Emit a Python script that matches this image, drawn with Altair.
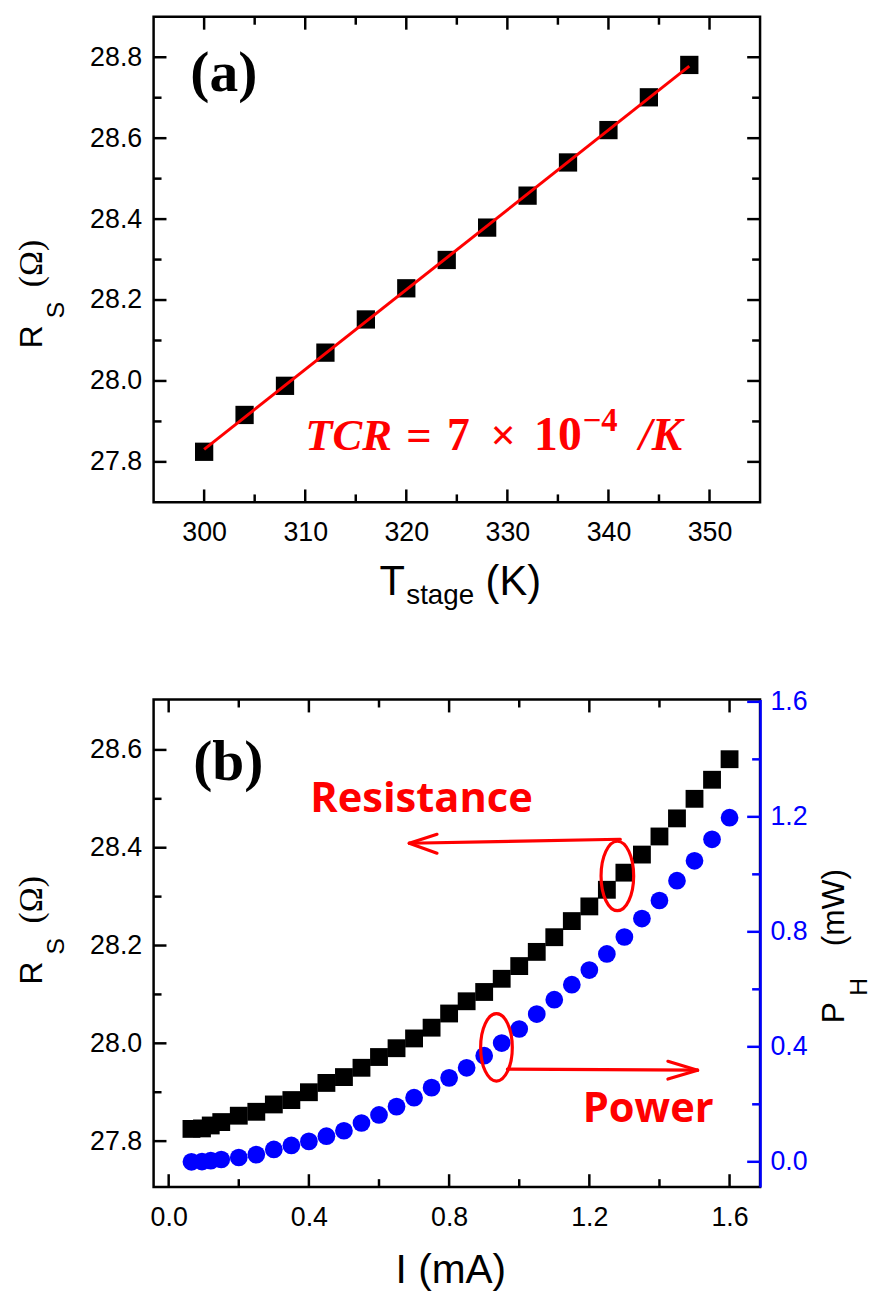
import altair as alt
import pandas as pd

# ---------------- data: panel (a) ----------------
T_stage = [300, 304, 308, 312, 316, 320, 324, 328, 332, 336, 340, 344, 348]
R_a = [27.825, 27.916, 27.988, 28.070, 28.152, 28.229, 28.299, 28.379,
       28.458, 28.540, 28.620, 28.701, 28.781]

# ---------------- data: panel (b) ----------------
I_mA = [0.065, 0.095, 0.12, 0.15, 0.20, 0.25, 0.30, 0.35, 0.40, 0.45, 0.50,
        0.55, 0.60, 0.65, 0.70, 0.75, 0.80, 0.85, 0.90, 0.95, 1.00, 1.05,
        1.10, 1.15, 1.20, 1.25, 1.30, 1.35, 1.40, 1.45, 1.50, 1.55, 1.60]
R_b = [27.825, 27.826, 27.832, 27.839, 27.852, 27.860, 27.875, 27.884,
       27.900, 27.919, 27.931, 27.950, 27.972, 27.990, 28.010, 28.032,
       28.061, 28.086, 28.105, 28.132, 28.158, 28.187, 28.217, 28.250,
       28.280, 28.314, 28.349, 28.386, 28.423, 28.460, 28.500, 28.539, 28.581]
P_b = [0.000, 0.001, 0.004, 0.008, 0.015, 0.025, 0.043, 0.057, 0.071,
       0.089, 0.108, 0.135, 0.163, 0.192, 0.223, 0.258, 0.292, 0.327,
       0.369, 0.413, 0.462, 0.514, 0.564, 0.616, 0.667, 0.723, 0.782,
       0.846, 0.909, 0.978, 1.047, 1.122, 1.197]

# ---------------- tick values ----------------
a_x_major = [300, 310, 320, 330, 340, 350]
a_x_minor = [305, 315, 325, 335, 345]
a_y_major = [27.8, 28.0, 28.2, 28.4, 28.6, 28.8]
a_y_minor = [27.9, 28.1, 28.3, 28.5, 28.7]
b_x_major = [0.0, 0.4, 0.8, 1.2, 1.6]
b_x_minor = [0.2, 0.6, 1.0, 1.4]
b_yl_major = [27.8, 28.0, 28.2, 28.4, 28.6]
b_yl_minor = [27.9, 28.1, 28.3, 28.5]
b_yr_major = [0.0, 0.4, 0.8, 1.2, 1.6]
b_yr_minor = [0.2, 0.6, 1.0, 1.4]

# ---------------- layout / style ----------------
W, HA, HB = 612, 490, 492
MAJ, MIN = 13, 8
TW = 2.5
RED, BLUE = "#ff0000", "#0000ff"
SANS, SERIF = "Liberation Sans", "Liberation Serif"
ONE = pd.DataFrame({"k": [0]})

xa = alt.Scale(domain=[295, 355], nice=False, zero=False)
ya = alt.Scale(domain=[27.7, 28.9], nice=False, zero=False)
xb = alt.Scale(domain=[-0.043, 1.687], nice=False, zero=False)
ybl = alt.Scale(domain=[27.706, 28.703], nice=False, zero=False)
ybr = alt.Scale(domain=[-0.088, 1.608], nice=False, zero=False)


def bottom_axis(vals, fmt):
    return alt.Axis(values=vals, format=fmt, title=None, domain=False, ticks=False,
                    tickSize=0, grid=False, labelPadding=18)


def left_axis(vals):
    return alt.Axis(orient="left", values=vals, format=".1f", title=None, domain=False,
                    ticks=False, tickSize=0, grid=False, labelPadding=12)


AX_A_X = bottom_axis(a_x_major, "d")
AX_A_Y = left_axis(a_y_major)
AX_B_X = bottom_axis(b_x_major, ".1f")
AX_B_YL = left_axis(b_yl_major)
AX_B_YR = alt.Axis(orient="right", values=b_yr_major, format=".1f", title=None,
                   domain=True, domainColor=BLUE, domainWidth=TW, ticks=False,
                   tickSize=0, grid=False, labelPadding=10, labelColor=BLUE)


def xticks(vals, scale, axis, length, h):
    d = pd.DataFrame({"v": vals})
    enc_x = alt.X("v:Q", scale=scale, axis=axis)
    bot = alt.Chart(d).mark_rule(color="black", strokeWidth=TW).encode(
        x=enc_x, y=alt.value(h), y2=alt.value(h - length))
    top = alt.Chart(d).mark_rule(color="black", strokeWidth=TW).encode(
        x=enc_x, y=alt.value(0), y2=alt.value(length))
    return [bot, top]


def yticks(vals, scale, axis, length, side, color="black"):
    d = pd.DataFrame({"v": vals})
    x0 = 0 if side == "left" else W
    x1 = length if side == "left" else W - length
    return alt.Chart(d).mark_rule(color=color, strokeWidth=TW).encode(
        y=alt.Y("v:Q", scale=scale, axis=axis), x=alt.value(x0), x2=alt.value(x1))


def label(s, x, y, size, font=SANS, weight="normal", style="normal",
          color="black", align="left", angle=0, baseline="alphabetic"):
    return alt.Chart(ONE).mark_text(
        text=s, font=font, fontSize=size, fontWeight=weight, fontStyle=style,
        color=color, align=align, baseline=baseline, angle=angle
    ).encode(x=alt.value(x), y=alt.value(y))


def seg(x1, y1, x2, y2, w=3.2):
    return alt.Chart(ONE).mark_rule(color=RED, strokeWidth=w, strokeCap="round").encode(
        x=alt.value(x1), y=alt.value(y1), x2=alt.value(x2), y2=alt.value(y2))


ELLIPSE = "M-0.47,0 A0.47,1 0 1,1 0.47,0 A0.47,1 0 1,1 -0.47,0 Z"


def ellipse(cx, cy, h):
    return alt.Chart(ONE).mark_point(
        shape=ELLIPSE, size=h * h, filled=False, color=RED, strokeWidth=3.2, opacity=1
    ).encode(x=alt.value(cx), y=alt.value(cy))


def y_title(ry):
    return [
        label("R", -113, ry, 32, align="center", angle=270),
        label("S", -90, ry - 27, 25, align="center", angle=270),
        label("(Ω)", -113, ry - 74, 34, font=SERIF, align="center", angle=270),
    ]


# ---------------- panel (a) ----------------
df_a = pd.DataFrame({"T": T_stage, "R": R_a})

pts_a = alt.Chart(df_a).mark_square(size=340, color="black", opacity=1).encode(
    x=alt.X("T:Q", scale=xa, axis=AX_A_X),
    y=alt.Y("R:Q", scale=ya, axis=AX_A_Y),
)
fit_a = alt.Chart(df_a).transform_regression("T", "R").mark_line(
    color=RED, strokeWidth=3).encode(
    x=alt.X("T:Q", scale=xa, axis=AX_A_X), y=alt.Y("R:Q", scale=ya, axis=AX_A_Y))

layers_a = [pts_a, fit_a]
layers_a += xticks(a_x_major, xa, AX_A_X, MAJ, HA) + xticks(a_x_minor, xa, AX_A_X, MIN, HA)
layers_a += [yticks(a_y_major, ya, AX_A_Y, MAJ, "left"), yticks(a_y_minor, ya, AX_A_Y, MIN, "left"),
             yticks(a_y_major, ya, AX_A_Y, MAJ, "right"), yticks(a_y_minor, ya, AX_A_Y, MIN, "right")]
layers_a += y_title(323)
layers_a += [
    label("T", 228, HA + 93, 42),
    label("stage", 255, HA + 103, 28),
    label("(K)", 335, HA + 93, 42),
    label("(a)", 37, 75, 58, font=SERIF, weight="bold"),
    label("TCR", 153, 437, 45, font=SERIF, weight="bold", style="italic", color=RED),
    label("=", 255, 437, 45, font=SERIF, weight="bold", color=RED),
    label("7", 296, 437, 46, font=SERIF, weight="bold", color=RED),
    label("×", 340, 437, 45, font=SERIF, weight="bold", color=RED),
    label("10", 384, 437, 48, font=SERIF, weight="bold", color=RED),
    label("−4", 433, 418, 33, font=SERIF, weight="bold", color=RED),
    label("/K", 490, 437, 46, font=SERIF, weight="bold", style="italic", color=RED),
]
panel_a = alt.layer(*layers_a).properties(width=W, height=HA)

# ---------------- panel (b) ----------------
df_b = pd.DataFrame({"I": I_mA, "R": R_b, "P": P_b})

sq_b = alt.Chart(df_b).mark_square(size=324, color="black", opacity=1).encode(
    x=alt.X("I:Q", scale=xb, axis=AX_B_X),
    y=alt.Y("R:Q", scale=ybl, axis=AX_B_YL),
)
ci_b = alt.Chart(df_b).mark_circle(size=320, color=BLUE, opacity=1).encode(
    x=alt.X("I:Q", scale=xb, axis=AX_B_X),
    y=alt.Y("P:Q", scale=ybr, axis=AX_B_YR),
)

layers_b = [sq_b, ci_b]
layers_b += xticks(b_x_major, xb, AX_B_X, MAJ, HB) + xticks(b_x_minor, xb, AX_B_X, MIN, HB)
layers_b += [yticks(b_yl_major, ybl, None, MAJ, "left"), yticks(b_yl_minor, ybl, None, MIN, "left"),
             yticks(b_yr_major, ybr, None, MAJ, "right", BLUE),
             yticks(b_yr_minor, ybr, None, MIN, "right", BLUE)]
layers_b += y_title(276)
layers_b += [
    label("I (mA)", 300, HB + 97, 41, align="center"),
    label("P", W + 85, 316, 32, align="center", angle=270),
    label("H", W + 108, 290, 25, align="center", angle=270),
    label("(mW)", W + 85, 210, 32, align="center", angle=270),
    label("(b)", 40, 81, 58, font=SERIF, weight="bold"),
    label("Resistance", 158, 113, 42, font="Open Sans", weight="bold", color=RED),
    label("Power", 433, 426, 42, font="Open Sans", weight="bold", color=RED),
    seg(471, 141, 258, 145), seg(258, 145, 286, 136), seg(258, 145, 286, 155),
    ellipse(468, 178, 70),
    ellipse(346, 351, 68),
    seg(357, 373, 549, 374), seg(549, 374, 519, 365), seg(549, 374, 519, 383),
]
panel_b = alt.layer(*layers_b).resolve_scale(y="independent").properties(width=W, height=HB)

chart = alt.vconcat(panel_a, panel_b, spacing=199, bounds="flush").properties(
    padding={"left": 13, "top": 8, "right": 2, "bottom": 2}
).configure_view(stroke="black", strokeWidth=TW).configure_axis(
    labelFont=SANS, labelFontSize=27, labelColor="black", grid=False
)

chart.save("out.html", embed_options={"renderer": "svg", "actions": False})
